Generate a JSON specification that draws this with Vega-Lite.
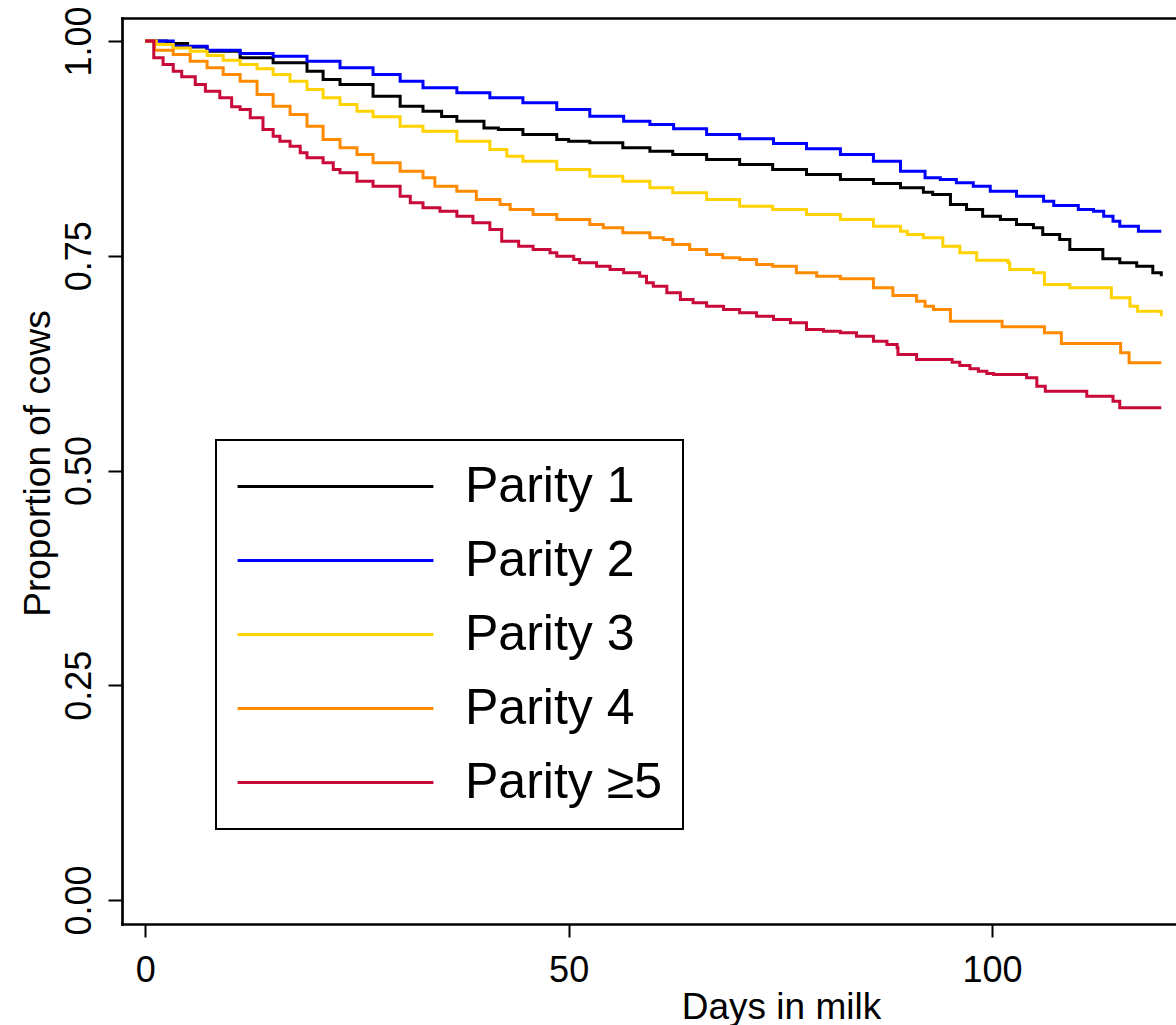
{
  "$schema": "https://vega.github.io/schema/vega-lite/v6.json",
  "width": 1054,
  "height": 906,
  "autosize": {"type": "none"},
  "padding": {"left": 122, "top": 18, "right": 0, "bottom": 101},
  "background": "white",
  "config": {
    "font": "Liberation Sans",
    "view": {"stroke": null},
    "legend": {"strokeWidth": 2},
    "axis": {"grid": false, "domainColor": "black", "domainWidth": 2.7, "domainCap": "square", "tickColor": "black", "tickWidth": 2, "labelColor": "black", "titleColor": "black", "labelFont": "Liberation Sans", "titleFont": "Liberation Sans", "titleFontWeight": "normal"}
  },
  "data": {"values": [
    {"g": "Parity 1", "day": 0, "p": 1.0},
    {"g": "Parity 1", "day": 2.5, "p": 0.997},
    {"g": "Parity 1", "day": 5, "p": 0.993},
    {"g": "Parity 1", "day": 7.3, "p": 0.9881},
    {"g": "Parity 1", "day": 11.2, "p": 0.9805},
    {"g": "Parity 1", "day": 15.1, "p": 0.9746},
    {"g": "Parity 1", "day": 19.1, "p": 0.9648},
    {"g": "Parity 1", "day": 21, "p": 0.9552},
    {"g": "Parity 1", "day": 23, "p": 0.9494},
    {"g": "Parity 1", "day": 26.9, "p": 0.9357},
    {"g": "Parity 1", "day": 30.1, "p": 0.9241},
    {"g": "Parity 1", "day": 32.8, "p": 0.9183},
    {"g": "Parity 1", "day": 35, "p": 0.9121},
    {"g": "Parity 1", "day": 36.8, "p": 0.9066},
    {"g": "Parity 1", "day": 40, "p": 0.8987},
    {"g": "Parity 1", "day": 41.7, "p": 0.897},
    {"g": "Parity 1", "day": 44.6, "p": 0.8911},
    {"g": "Parity 1", "day": 48.6, "p": 0.8853},
    {"g": "Parity 1", "day": 50, "p": 0.8834},
    {"g": "Parity 1", "day": 52.5, "p": 0.8815},
    {"g": "Parity 1", "day": 56.4, "p": 0.8757},
    {"g": "Parity 1", "day": 59.6, "p": 0.8717},
    {"g": "Parity 1", "day": 62.3, "p": 0.8679},
    {"g": "Parity 1", "day": 66.3, "p": 0.862},
    {"g": "Parity 1", "day": 70.2, "p": 0.8562},
    {"g": "Parity 1", "day": 74.1, "p": 0.8504},
    {"g": "Parity 1", "day": 78.1, "p": 0.8446},
    {"g": "Parity 1", "day": 82.1, "p": 0.8388},
    {"g": "Parity 1", "day": 86, "p": 0.8341},
    {"g": "Parity 1", "day": 89.2, "p": 0.8291},
    {"g": "Parity 1", "day": 91.9, "p": 0.824},
    {"g": "Parity 1", "day": 93, "p": 0.8213},
    {"g": "Parity 1", "day": 95.1, "p": 0.8097},
    {"g": "Parity 1", "day": 97, "p": 0.8039},
    {"g": "Parity 1", "day": 98.9, "p": 0.796},
    {"g": "Parity 1", "day": 101, "p": 0.7922},
    {"g": "Parity 1", "day": 102.9, "p": 0.7864},
    {"g": "Parity 1", "day": 104.9, "p": 0.7825},
    {"g": "Parity 1", "day": 106, "p": 0.7747},
    {"g": "Parity 1", "day": 108, "p": 0.7689},
    {"g": "Parity 1", "day": 109.2, "p": 0.7573},
    {"g": "Parity 1", "day": 113.1, "p": 0.7464},
    {"g": "Parity 1", "day": 115.1, "p": 0.7418},
    {"g": "Parity 1", "day": 117.1, "p": 0.7378},
    {"g": "Parity 1", "day": 119, "p": 0.7302},
    {"g": "Parity 1", "day": 120, "p": 0.7262},

    {"g": "Parity 2", "day": 0, "p": 1.0},
    {"g": "Parity 2", "day": 3.3, "p": 0.9939},
    {"g": "Parity 2", "day": 7.3, "p": 0.9893},
    {"g": "Parity 2", "day": 11.2, "p": 0.9854},
    {"g": "Parity 2", "day": 15.1, "p": 0.9823},
    {"g": "Parity 2", "day": 19.1, "p": 0.9765},
    {"g": "Parity 2", "day": 23, "p": 0.9688},
    {"g": "Parity 2", "day": 26.9, "p": 0.961},
    {"g": "Parity 2", "day": 30.1, "p": 0.9532},
    {"g": "Parity 2", "day": 32.8, "p": 0.9455},
    {"g": "Parity 2", "day": 36.8, "p": 0.9397},
    {"g": "Parity 2", "day": 40.7, "p": 0.9339},
    {"g": "Parity 2", "day": 44.6, "p": 0.928},
    {"g": "Parity 2", "day": 48.6, "p": 0.9203},
    {"g": "Parity 2", "day": 52.5, "p": 0.9125},
    {"g": "Parity 2", "day": 56.5, "p": 0.9066},
    {"g": "Parity 2", "day": 59.6, "p": 0.9028},
    {"g": "Parity 2", "day": 62.4, "p": 0.8978},
    {"g": "Parity 2", "day": 66.3, "p": 0.8911},
    {"g": "Parity 2", "day": 70.2, "p": 0.8861},
    {"g": "Parity 2", "day": 74.2, "p": 0.8807},
    {"g": "Parity 2", "day": 78.1, "p": 0.8745},
    {"g": "Parity 2", "day": 82.1, "p": 0.8679},
    {"g": "Parity 2", "day": 86, "p": 0.8601},
    {"g": "Parity 2", "day": 89.2, "p": 0.8484},
    {"g": "Parity 2", "day": 92.1, "p": 0.8407},
    {"g": "Parity 2", "day": 93.9, "p": 0.8388},
    {"g": "Parity 2", "day": 95.8, "p": 0.8349},
    {"g": "Parity 2", "day": 97.8, "p": 0.831},
    {"g": "Parity 2", "day": 99.8, "p": 0.8251},
    {"g": "Parity 2", "day": 102.9, "p": 0.8193},
    {"g": "Parity 2", "day": 106.1, "p": 0.8135},
    {"g": "Parity 2", "day": 107.3, "p": 0.8085},
    {"g": "Parity 2", "day": 110.2, "p": 0.8039},
    {"g": "Parity 2", "day": 112, "p": 0.8019},
    {"g": "Parity 2", "day": 113.2, "p": 0.796},
    {"g": "Parity 2", "day": 114.3, "p": 0.7902},
    {"g": "Parity 2", "day": 115.1, "p": 0.7844},
    {"g": "Parity 2", "day": 117.3, "p": 0.7786},
    {"g": "Parity 2", "day": 120, "p": 0.7786},

    {"g": "Parity 3", "day": 0, "p": 1.0},
    {"g": "Parity 3", "day": 1.3, "p": 0.9959},
    {"g": "Parity 3", "day": 3.3, "p": 0.992},
    {"g": "Parity 3", "day": 5.3, "p": 0.988},
    {"g": "Parity 3", "day": 7.3, "p": 0.9831},
    {"g": "Parity 3", "day": 9.2, "p": 0.9777},
    {"g": "Parity 3", "day": 11.2, "p": 0.9726},
    {"g": "Parity 3", "day": 13.2, "p": 0.9676},
    {"g": "Parity 3", "day": 15.1, "p": 0.961},
    {"g": "Parity 3", "day": 17.1, "p": 0.9532},
    {"g": "Parity 3", "day": 19.1, "p": 0.9435},
    {"g": "Parity 3", "day": 21, "p": 0.9339},
    {"g": "Parity 3", "day": 23, "p": 0.926},
    {"g": "Parity 3", "day": 25, "p": 0.9183},
    {"g": "Parity 3", "day": 26.9, "p": 0.9118},
    {"g": "Parity 3", "day": 30.1, "p": 0.9008},
    {"g": "Parity 3", "day": 32.8, "p": 0.895},
    {"g": "Parity 3", "day": 36.8, "p": 0.8834},
    {"g": "Parity 3", "day": 40.7, "p": 0.8737},
    {"g": "Parity 3", "day": 42.7, "p": 0.8659},
    {"g": "Parity 3", "day": 44.6, "p": 0.8601},
    {"g": "Parity 3", "day": 48.6, "p": 0.8504},
    {"g": "Parity 3", "day": 52.5, "p": 0.8426},
    {"g": "Parity 3", "day": 56.4, "p": 0.8368},
    {"g": "Parity 3", "day": 59.6, "p": 0.8291},
    {"g": "Parity 3", "day": 62.3, "p": 0.8233},
    {"g": "Parity 3", "day": 66.3, "p": 0.8155},
    {"g": "Parity 3", "day": 70.2, "p": 0.8077},
    {"g": "Parity 3", "day": 74.1, "p": 0.8038},
    {"g": "Parity 3", "day": 78.1, "p": 0.798},
    {"g": "Parity 3", "day": 82.1, "p": 0.7922},
    {"g": "Parity 3", "day": 86, "p": 0.7844},
    {"g": "Parity 3", "day": 89.2, "p": 0.7786},
    {"g": "Parity 3", "day": 90, "p": 0.7747},
    {"g": "Parity 3", "day": 91.9, "p": 0.7709},
    {"g": "Parity 3", "day": 94.2, "p": 0.7611},
    {"g": "Parity 3", "day": 96.2, "p": 0.7534},
    {"g": "Parity 3", "day": 98.2, "p": 0.7448},
    {"g": "Parity 3", "day": 101.9, "p": 0.7418},
    {"g": "Parity 3", "day": 102.1, "p": 0.734},
    {"g": "Parity 3", "day": 104.9, "p": 0.7302},
    {"g": "Parity 3", "day": 106.2, "p": 0.7165},
    {"g": "Parity 3", "day": 109.2, "p": 0.7127},
    {"g": "Parity 3", "day": 114.1, "p": 0.701},
    {"g": "Parity 3", "day": 116.3, "p": 0.6913},
    {"g": "Parity 3", "day": 117.2, "p": 0.6854},
    {"g": "Parity 3", "day": 120, "p": 0.6796},

    {"g": "Parity 4", "day": 0, "p": 1.0},
    {"g": "Parity 4", "day": 1.1, "p": 0.9893},
    {"g": "Parity 4", "day": 3.3, "p": 0.9843},
    {"g": "Parity 4", "day": 5.3, "p": 0.9765},
    {"g": "Parity 4", "day": 7.3, "p": 0.9688},
    {"g": "Parity 4", "day": 9.2, "p": 0.961},
    {"g": "Parity 4", "day": 11.2, "p": 0.9532},
    {"g": "Parity 4", "day": 13.2, "p": 0.9377},
    {"g": "Parity 4", "day": 15.1, "p": 0.9241},
    {"g": "Parity 4", "day": 17.1, "p": 0.9144},
    {"g": "Parity 4", "day": 19.1, "p": 0.9008},
    {"g": "Parity 4", "day": 21, "p": 0.8853},
    {"g": "Parity 4", "day": 23, "p": 0.8757},
    {"g": "Parity 4", "day": 25, "p": 0.8679},
    {"g": "Parity 4", "day": 26.9, "p": 0.8582},
    {"g": "Parity 4", "day": 30.1, "p": 0.8484},
    {"g": "Parity 4", "day": 32.8, "p": 0.8408},
    {"g": "Parity 4", "day": 34.2, "p": 0.831},
    {"g": "Parity 4", "day": 36.8, "p": 0.8252},
    {"g": "Parity 4", "day": 39.1, "p": 0.8155},
    {"g": "Parity 4", "day": 41.9, "p": 0.8097},
    {"g": "Parity 4", "day": 43.1, "p": 0.8039},
    {"g": "Parity 4", "day": 45.8, "p": 0.798},
    {"g": "Parity 4", "day": 48.6, "p": 0.7922},
    {"g": "Parity 4", "day": 52.5, "p": 0.7864},
    {"g": "Parity 4", "day": 54.1, "p": 0.7825},
    {"g": "Parity 4", "day": 56.4, "p": 0.7767},
    {"g": "Parity 4", "day": 59.6, "p": 0.7709},
    {"g": "Parity 4", "day": 61.2, "p": 0.7689},
    {"g": "Parity 4", "day": 62.3, "p": 0.7631},
    {"g": "Parity 4", "day": 64.3, "p": 0.7573},
    {"g": "Parity 4", "day": 66.3, "p": 0.7515},
    {"g": "Parity 4", "day": 68.2, "p": 0.7476},
    {"g": "Parity 4", "day": 70.2, "p": 0.7456},
    {"g": "Parity 4", "day": 72.2, "p": 0.7398},
    {"g": "Parity 4", "day": 74.1, "p": 0.7378},
    {"g": "Parity 4", "day": 76.9, "p": 0.7302},
    {"g": "Parity 4", "day": 79.3, "p": 0.7262},
    {"g": "Parity 4", "day": 82.1, "p": 0.7232},
    {"g": "Parity 4", "day": 86, "p": 0.7127},
    {"g": "Parity 4", "day": 88.3, "p": 0.7037},
    {"g": "Parity 4", "day": 91.1, "p": 0.6971},
    {"g": "Parity 4", "day": 92.1, "p": 0.6913},
    {"g": "Parity 4", "day": 93.1, "p": 0.6874},
    {"g": "Parity 4", "day": 95.1, "p": 0.6738},
    {"g": "Parity 4", "day": 101.2, "p": 0.6673},
    {"g": "Parity 4", "day": 106.2, "p": 0.6603},
    {"g": "Parity 4", "day": 108.2, "p": 0.6478},
    {"g": "Parity 4", "day": 115.2, "p": 0.637},
    {"g": "Parity 4", "day": 116.2, "p": 0.6254},
    {"g": "Parity 4", "day": 120, "p": 0.6254},

    {"g": "Parity ≥5", "day": 0, "p": 1.0},
    {"g": "Parity ≥5", "day": 1, "p": 0.9804},
    {"g": "Parity ≥5", "day": 2.1, "p": 0.9726},
    {"g": "Parity ≥5", "day": 3.3, "p": 0.9648},
    {"g": "Parity ≥5", "day": 4.3, "p": 0.9583},
    {"g": "Parity ≥5", "day": 5.9, "p": 0.9494},
    {"g": "Parity ≥5", "day": 7.1, "p": 0.9416},
    {"g": "Parity ≥5", "day": 8.8, "p": 0.9339},
    {"g": "Parity ≥5", "day": 10.2, "p": 0.9234},
    {"g": "Parity ≥5", "day": 11.2, "p": 0.9203},
    {"g": "Parity ≥5", "day": 12.4, "p": 0.9106},
    {"g": "Parity ≥5", "day": 13.9, "p": 0.897},
    {"g": "Parity ≥5", "day": 15.1, "p": 0.8892},
    {"g": "Parity ≥5", "day": 15.9, "p": 0.8834},
    {"g": "Parity ≥5", "day": 17.1, "p": 0.8775},
    {"g": "Parity ≥5", "day": 18.3, "p": 0.8698},
    {"g": "Parity ≥5", "day": 19.1, "p": 0.864},
    {"g": "Parity ≥5", "day": 21, "p": 0.8582},
    {"g": "Parity ≥5", "day": 22.2, "p": 0.8504},
    {"g": "Parity ≥5", "day": 23, "p": 0.8466},
    {"g": "Parity ≥5", "day": 25, "p": 0.8368},
    {"g": "Parity ≥5", "day": 26.9, "p": 0.831},
    {"g": "Parity ≥5", "day": 30.1, "p": 0.8193},
    {"g": "Parity ≥5", "day": 31.3, "p": 0.8116},
    {"g": "Parity ≥5", "day": 32.8, "p": 0.8058},
    {"g": "Parity ≥5", "day": 34.8, "p": 0.8019},
    {"g": "Parity ≥5", "day": 36.8, "p": 0.796},
    {"g": "Parity ≥5", "day": 38.7, "p": 0.7883},
    {"g": "Parity ≥5", "day": 40.7, "p": 0.7806},
    {"g": "Parity ≥5", "day": 42.1, "p": 0.7669},
    {"g": "Parity ≥5", "day": 44.1, "p": 0.7611},
    {"g": "Parity ≥5", "day": 45.8, "p": 0.7573},
    {"g": "Parity ≥5", "day": 47.8, "p": 0.7534},
    {"g": "Parity ≥5", "day": 48.6, "p": 0.7495},
    {"g": "Parity ≥5", "day": 50.6, "p": 0.7456},
    {"g": "Parity ≥5", "day": 51.3, "p": 0.7418},
    {"g": "Parity ≥5", "day": 53.3, "p": 0.7378},
    {"g": "Parity ≥5", "day": 54.9, "p": 0.734},
    {"g": "Parity ≥5", "day": 56.5, "p": 0.7302},
    {"g": "Parity ≥5", "day": 58.4, "p": 0.7262},
    {"g": "Parity ≥5", "day": 59.2, "p": 0.7185},
    {"g": "Parity ≥5", "day": 60, "p": 0.7146},
    {"g": "Parity ≥5", "day": 61.6, "p": 0.7069},
    {"g": "Parity ≥5", "day": 63.2, "p": 0.6991},
    {"g": "Parity ≥5", "day": 64.7, "p": 0.6952},
    {"g": "Parity ≥5", "day": 66.3, "p": 0.6913},
    {"g": "Parity ≥5", "day": 68.3, "p": 0.6874},
    {"g": "Parity ≥5", "day": 70.2, "p": 0.6836},
    {"g": "Parity ≥5", "day": 72.2, "p": 0.6796},
    {"g": "Parity ≥5", "day": 74.2, "p": 0.6758},
    {"g": "Parity ≥5", "day": 76.2, "p": 0.6719},
    {"g": "Parity ≥5", "day": 78.1, "p": 0.6641},
    {"g": "Parity ≥5", "day": 80.1, "p": 0.6622},
    {"g": "Parity ≥5", "day": 82.1, "p": 0.6603},
    {"g": "Parity ≥5", "day": 84, "p": 0.6563},
    {"g": "Parity ≥5", "day": 86, "p": 0.6505},
    {"g": "Parity ≥5", "day": 87.6, "p": 0.6467},
    {"g": "Parity ≥5", "day": 88.8, "p": 0.6428},
    {"g": "Parity ≥5", "day": 88.9, "p": 0.635},
    {"g": "Parity ≥5", "day": 91.1, "p": 0.6292},
    {"g": "Parity ≥5", "day": 95.3, "p": 0.6261},
    {"g": "Parity ≥5", "day": 96.2, "p": 0.6222},
    {"g": "Parity ≥5", "day": 97.4, "p": 0.6184},
    {"g": "Parity ≥5", "day": 98.4, "p": 0.6156},
    {"g": "Parity ≥5", "day": 99.4, "p": 0.6129},
    {"g": "Parity ≥5", "day": 100.2, "p": 0.6118},
    {"g": "Parity ≥5", "day": 104.1, "p": 0.6079},
    {"g": "Parity ≥5", "day": 105.3, "p": 0.5981},
    {"g": "Parity ≥5", "day": 106.3, "p": 0.5923},
    {"g": "Parity ≥5", "day": 111.2, "p": 0.5865},
    {"g": "Parity ≥5", "day": 114.3, "p": 0.5807},
    {"g": "Parity ≥5", "day": 115.1, "p": 0.573},
    {"g": "Parity ≥5", "day": 120, "p": 0.573}
  ]},
  "resolve": {"axis": {"x": "independent"}},
  "layer": [
    {
      "mark": {"type": "line", "interpolate": "step-after", "strokeWidth": 3},
      "encoding": {
        "x": {"field": "day", "type": "quantitative",
              "scale": {"domain": [-2.752, 121.74], "nice": false, "zero": false},
              "axis": {"values": [0, 50, 100], "tickSize": 13, "labelFontSize": 36, "labelPadding": 16, "labelFlush": false, "labelOverlap": false,
                       "title": "Days in milk", "titleFontSize": 37, "titleBaseline": "alphabetic", "titleAlign": "center", "titleX": 659, "titleY": 94}},
        "y": {"field": "p", "type": "quantitative",
              "scale": {"domain": [-0.0279, 1.0268], "nice": false, "zero": false},
              "axis": {"values": [0, 0.25, 0.5, 0.75, 1], "format": ".2f", "tickSize": 14, "labelFontSize": 36, "labelAngle": -90, "labelAlign": "center", "labelBaseline": "alphabetic", "labelPadding": 18, "labelFlush": false, "labelOverlap": false,
                       "title": "Proportion of cows", "titleFontSize": 37, "titleAngle": -90, "titleAlign": "center", "titleBaseline": "alphabetic", "titleX": -73, "titleY": 445}},
        "color": {"field": "g", "type": "nominal",
                  "scale": {"domain": ["Parity 1", "Parity 2", "Parity 3", "Parity 4", "Parity ≥5"],
                            "range": ["#000000", "#0000FF", "#FFD200", "#FF8A00", "#C8093A"]},
                  "legend": {"orient": "none", "legendX": 94, "legendY": 422, "title": null,
                             "symbolType": "M-4.08,0H4.08", "symbolSize": 2304, "symbolStrokeWidth": 3, "symbolOffset": 73,
                             "labelOffset": 104, "labelLimit": 500, "labelFontSize": 50, "labelFont": "Liberation Sans", "labelColor": "black",
                             "padding": 21, "rowPadding": 23, "strokeColor": "black", "fillColor": "white"}}
      }
    },
    {
      "mark": {"type": "line", "opacity": 0},
      "encoding": {
        "x": {"field": "day", "type": "quantitative",
              "axis": {"orient": "top", "labels": false, "ticks": false, "title": null, "domainWidth": 2.7}},
        "y": {"field": "p", "type": "quantitative"}
      }
    }
  ]
}
